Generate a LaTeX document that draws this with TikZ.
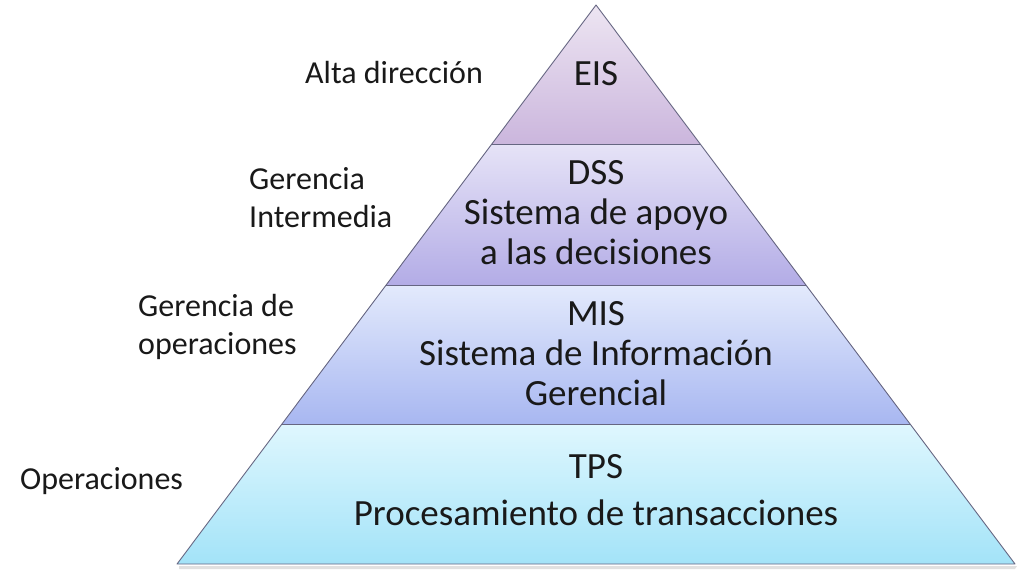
\documentclass[tikz,border=0pt]{standalone}
\usepackage{fontspec}
\setmainfont{Carlito}
\begin{document}
\begin{tikzpicture}[x=1pt,y=-1pt,
  edge/.style={draw=black!45!blue!20!gray, line width=0.9pt, line join=round},
  ptext/.style={font=\fontsize{37}{40}\selectfont, align=center, text=black!90},
  ltext/.style={font=\fontsize{32}{38}\selectfont, align=left, anchor=west, text=black!90}]
\useasboundingbox (0,0) rectangle (1024,575);
\definecolor{eisT}{HTML}{EDE5F2}\definecolor{eisB}{HTML}{CBB6DD}
\definecolor{dssT}{HTML}{E6E3F7}\definecolor{dssB}{HTML}{B3ACE6}
\definecolor{misT}{HTML}{E3EAFC}\definecolor{misB}{HTML}{A8B7F1}
\definecolor{tpsT}{HTML}{DFF7FE}\definecolor{tpsB}{HTML}{A3E3F8}
\coordinate (apex) at (596,5);
\coordinate (l1) at (492,144); \coordinate (r1) at (700,144);
\coordinate (l2) at (386,285); \coordinate (r2) at (806,285);
\coordinate (l3) at (282,424); \coordinate (r3) at (910,424);
\coordinate (l4) at (177,564); \coordinate (r4) at (1015,564);
% shadow
\fill[black!12] (179,566) -- (1017,566) -- (1015,569) -- (179,569) -- cycle;
\shade[top color=eisT, bottom color=eisB] (apex) -- (r1) -- (l1) -- cycle;
\shade[top color=dssT, bottom color=dssB] (l1) -- (r1) -- (r2) -- (l2) -- cycle;
\shade[top color=misT, bottom color=misB] (l2) -- (r2) -- (r3) -- (l3) -- cycle;
\shade[top color=tpsT, bottom color=tpsB] (l3) -- (r3) -- (r4) -- (l4) -- cycle;
\draw[edge] (apex) -- (r4) -- (l4) -- cycle;
\draw[edge] (l1) -- (r1);
\draw[edge] (l2) -- (r2);
\draw[edge] (l3) -- (r3);
% pyramid texts
\node[ptext] (eis) at (596,74) {EIS};
\node[ptext] (dss) at (596,213) {DSS\\Sistema de apoyo\\a las decisiones};
\node[ptext] (mis) at (596,354) {MIS\\Sistema de Información\\Gerencial};
\node[ptext, font=\fontsize{37}{47}\selectfont] (tps) at (596,490) {TPS\\Procesamiento de transacciones};
% side labels
\node[ltext, inner sep=0pt] (alta) at (305,73) {Alta dirección};
\node[ltext, inner sep=0pt] (gint) at (249,198) {Gerencia\\Intermedia};
\node[ltext, inner sep=0pt] (gop) at (138,327) {Gerencia de\\operaciones};
\node[ltext, inner sep=0pt] (op) at (20,481) {Operaciones};
\end{tikzpicture}
\end{document}
